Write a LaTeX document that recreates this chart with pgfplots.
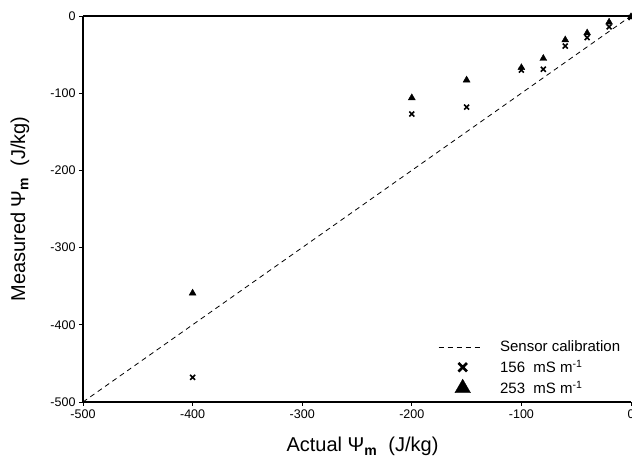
\documentclass[border=0pt]{standalone}
\usepackage{fontspec}
\setmainfont{Liberation Sans}
\usepackage{pgfplots}
\pgfplotsset{compat=1.18}

\pgfplotsset{
    leg line/.style={legend image code/.code={\draw[##1] (0pt,0pt) -- (43pt,0pt);}},
    leg mark/.style={legend image code/.code={\draw[##1] plot coordinates {(24pt,0pt)};}},
}

\begin{document}
\begin{tikzpicture}
\begin{axis}[
    name=ax,
    width=548pt, height=386pt,
    scale only axis,
    xmin=-500, xmax=0,
    ymin=-500, ymax=0,
    axis x line*=box,
    axis y line*=left,
    axis line style={black, line width=1.1pt},
    xtick={-500,-400,-300,-200,-100,0},
    ytick={-500,-400,-300,-200,-100,0},
    xticklabels={-500,-400,-300,-200,-100,0},
    yticklabels={-500,-400,-300,-200,-100,0},
    xtick pos=bottom, ytick pos=left,
    tick align=outside,
    major tick length=4pt,
    tick style={black, line width=0.7pt},
    tick label style={font=\fontsize{12.5}{14}\selectfont},
    xlabel={Actual Ψ\textsubscript{\textbf{m}}\ \ (J/kg)},
    ylabel={Measured Ψ\textsubscript{\textbf{m}}\ \ (J/kg)},
    label style={font=\fontsize{20}{24}\selectfont},
    xlabel style={at={(axis description cs:0.51,0)}, anchor=base, yshift=-50pt},
    ylabel style={at={(axis description cs:0,0.5)}, anchor=center, yshift=63pt},
    legend style={draw=none, fill=none, inner sep=0pt,
        at={(axis cs:-176,-418)}, anchor=north west,
        font=\fontsize{15}{18}\selectfont, row sep=3pt,
        cells={anchor=west},
        /tikz/every odd column/.append style={column sep=16pt}},
    clip=false
]

% sensor calibration (1:1 line)
\addplot[black, line width=0.8pt, dash pattern=on 5pt off 4pt, forget plot]
    coordinates {(-500,-500) (0,0)};

% 156 mS/m
\addplot[only marks, mark=x, mark size=3.5pt, line width=1.6pt, black, forget plot]
    coordinates {
    (-400,-468) (-200,-127) (-150,-118) (-100,-70) (-80,-69)
    (-60,-39) (-40,-28) (-20,-14) (0,-2)
};

% 253 mS/m
\addplot[only marks, mark=triangle*, mark size=4pt, black, forget plot]
    coordinates {
    (-400,-359) (-200,-106) (-150,-83) (-100,-67) (-80,-55)
    (-60,-31) (-40,-22) (-20,-8) (0,-1)
};

\addlegendimage{black, line width=0.8pt, dash pattern=on 5pt off 4pt, leg line}
\addlegendentry{Sensor calibration}
\addlegendimage{only marks, mark=x, mark size=6pt, line width=2.6pt, black, leg mark}
\addlegendentry{156\ \ mS m\textsuperscript{-1}}
\addlegendimage{only marks, mark=triangle*, mark size=9pt, black, leg mark}
\addlegendentry{253\ \ mS m\textsuperscript{-1}}

\end{axis}
\pgfresetboundingbox
\path[use as bounding box] ([xshift=-83pt,yshift=-57pt]ax.south west)
    rectangle ([xshift=1pt,yshift=16pt]ax.north east);
\end{tikzpicture}
\end{document}
